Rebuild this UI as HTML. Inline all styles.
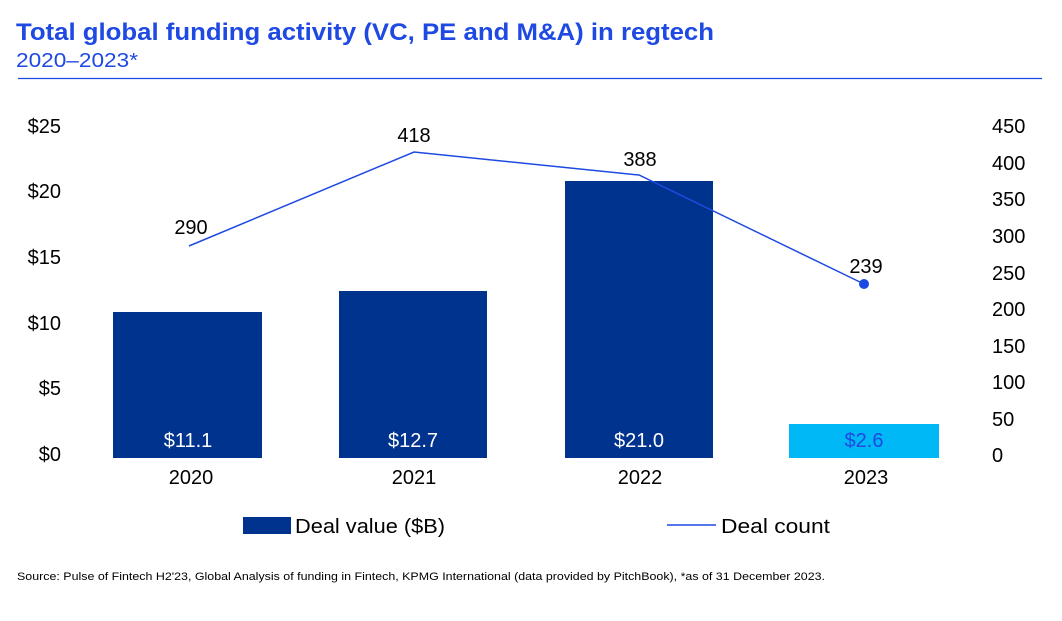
<!DOCTYPE html>
<html><head><meta charset="utf-8"><style>
html,body{margin:0;padding:0;background:#fff;width:1062px;height:621px;overflow:hidden}
svg{display:block;font-family:"Liberation Sans",sans-serif}
</style></head><body>
<svg width="1062" height="621" viewBox="0 0 1062 621" xmlns="http://www.w3.org/2000/svg">
<text x="16" y="40" font-size="24" font-weight="bold" fill="#1e49e2" textLength="698" lengthAdjust="spacingAndGlyphs">Total global funding activity (VC, PE and M&amp;A) in regtech</text>
<text x="16" y="67" font-size="20" fill="#1e49e2" textLength="122" lengthAdjust="spacingAndGlyphs">2020–2023*</text>
<line x1="18" y1="78.5" x2="1042" y2="78.5" stroke="#1e49e2" stroke-width="1.3"/>
<g font-size="20" fill="#000">
<text x="61" y="133" text-anchor="end">$25</text>
<text x="61" y="198" text-anchor="end">$20</text>
<text x="61" y="264" text-anchor="end">$15</text>
<text x="61" y="330" text-anchor="end">$10</text>
<text x="61" y="395" text-anchor="end">$5</text>
<text x="61" y="461" text-anchor="end">$0</text>
<text x="992" y="133">450</text>
<text x="992" y="170">400</text>
<text x="992" y="206">350</text>
<text x="992" y="243">300</text>
<text x="992" y="280">250</text>
<text x="992" y="316">200</text>
<text x="992" y="353">150</text>
<text x="992" y="389">100</text>
<text x="992" y="426">50</text>
<text x="992" y="462">0</text>
</g>
<rect x="113" y="312" width="149" height="146" fill="#00338d"/>
<rect x="339" y="291" width="148" height="167" fill="#00338d"/>
<rect x="565" y="181" width="148" height="277" fill="#00338d"/>
<rect x="789" y="424" width="150" height="34" fill="#00b8f5"/>
<g font-size="20" text-anchor="middle">
<text x="188" y="447" fill="#fff">$11.1</text>
<text x="413" y="447" fill="#fff">$12.7</text>
<text x="639" y="447" fill="#fff">$21.0</text>
<text x="864" y="447" fill="#1e49e2">$2.6</text>
<text x="191" y="484" fill="#000">2020</text>
<text x="414" y="484" fill="#000">2021</text>
<text x="640" y="484" fill="#000">2022</text>
<text x="866" y="484" fill="#000">2023</text>
<text x="191" y="234" fill="#000">290</text>
<text x="414" y="142" fill="#000">418</text>
<text x="640" y="166" fill="#000">388</text>
<text x="866" y="273" fill="#000">239</text>
</g>
<polyline points="189,246 414,152 639,175 864,284" fill="none" stroke="#1e49e2" stroke-width="1.5"/>
<circle cx="864" cy="284" r="5" fill="#1e49e2"/>
<rect x="243" y="517" width="48" height="17" fill="#00338d"/>
<text x="295" y="533" font-size="20" textLength="150" lengthAdjust="spacingAndGlyphs">Deal value ($B)</text>
<line x1="667" y1="525" x2="716" y2="525" stroke="#1e49e2" stroke-width="1.5"/>
<text x="721" y="533" font-size="20" textLength="109" lengthAdjust="spacingAndGlyphs">Deal count</text>
<text x="17" y="580" font-size="11" fill="#000" textLength="808" lengthAdjust="spacingAndGlyphs">Source: Pulse of Fintech H2'23, Global Analysis of funding in Fintech, KPMG International (data provided by PitchBook), *as of 31 December 2023.</text>
</svg>
</body></html>
